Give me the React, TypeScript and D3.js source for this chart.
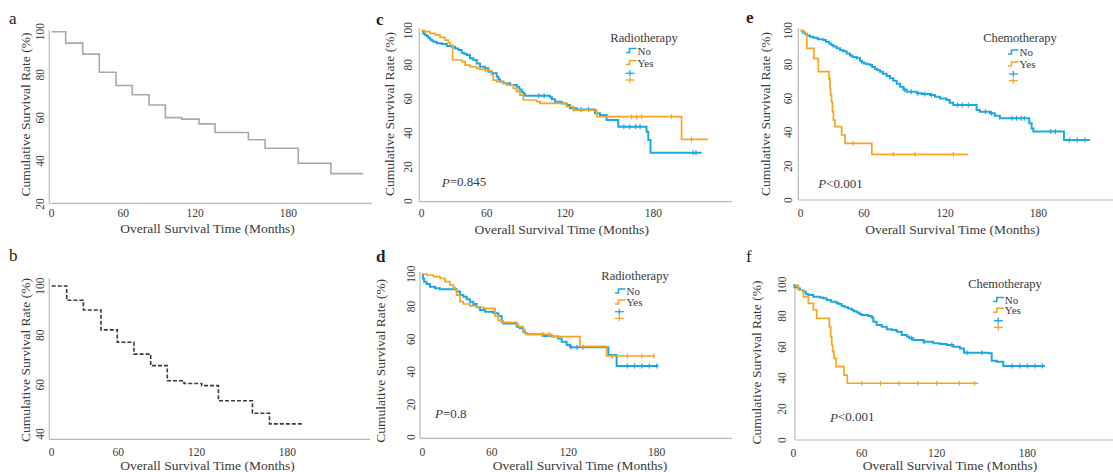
import React from "react";
import * as d3 from "d3";

const W = 1113;
const H = 472;
const FONT = "'Liberation Serif','Times New Roman',serif";
const BLUE = "#1ca8e4";
const ORANGE = "#f5a523";
const AXIS = "#b8b8b8";
const TEXT = "#3a3a3a";

// ---------- tick labels & texts ----------
const xTicks = [0, 60, 120, 180];
const yTicksA = [20, 40, 60, 80, 100];
const yTicksB = [40, 60, 80, 100];
const yTicksFull = [0, 20, 40, 60, 80, 100];
const xTitle = "Overall Survival Time (Months)";
const yTitle = "Cumulative Survival Rate (%)";
const groupLabels = ["No", "Yes"];
const legendRadio = "Radiotherapy";
const legendChemo = "Chemotherapy";
const pC = "=0.845";
const pD = "=0.8";
const pE = "<0.001";
const pF = "<0.001";

// ---------- data: [month, survival %] step events ----------
const aSteps = [[0,100],[11.7,94.7],[26.0,89.6],[39.9,81.2],[53.9,75.0],[67.5,70.7],[81.5,66.0],[95.2,60.1],[108.9,59.4],[122.6,57.2],[132.9,53.2],[154.3,49.8],[165.1,45.9],[186.4,38.9],[207.4,34.1]];
const aEnd = 228.2;

const bSteps = [[0,100],[13.5,94.2],[28.5,90.3],[44.4,82.2],[59.1,77.2],[72.0,72.4],[84.8,67.7],[97.5,61.6],[110.3,60.5],[123.3,59.6],[134.4,53.5],[156.9,48.4],[168.2,44.1]];
const bEnd = 190.3;

const cNo = [[0,100],[1.5,98.4],[3,97.5],[4.6,96.9],[6,95.9],[7.7,94.9],[9,94.2],[10.8,93.5],[13.8,92.6],[18.5,92.2],[23.1,91.0],[27.7,90.6],[30.8,89.6],[33.8,88.6],[36.9,87.1],[39,86.5],[41.5,85.7],[44.6,83.8],[47.7,82.8],[50.8,80.8],[53.8,78.9],[58.5,77.9],[61.3,75.9],[64,75.0],[67.7,73.0],[69,71.5],[70.2,70.1],[72.8,69.1],[77.9,68.1],[83.0,67.1],[85,65.5],[86.8,64.2],[88,63.0],[89.4,61.8],[108.5,60.9],[110,59.7],[112.3,58.3],[117.4,57.3],[121.1,56.4],[123.4,54.4],[127.9,53.8],[140.4,51.5],[143.8,50.5],[148.3,47.6],[156.2,43.6],[175.4,40.7],[176.6,35.8],[178.1,28.4]];
const cNoEnd = 212.8;
const cNoCensor = [100,104,131,136,160,164,168,171,207,209];
const cYes = [[0,100],[3,99.4],[7.7,98.4],[12.3,97.5],[16.9,96.1],[21.5,94.5],[24.6,93.0],[26.2,91.6],[28.5,82.8],[36.9,81.8],[40,79.8],[44.6,78.9],[50.8,77.9],[53.8,77.3],[58.5,76.5],[63.8,74.0],[65,71.0],[67.7,70.1],[72.8,69.1],[75.3,68.1],[80.4,66.1],[83,64.2],[85.5,62.2],[88,59.3],[98.3,58.3],[100.9,57.3],[121.1,55.4],[125.7,53.4],[141.5,49.5],[199.2,36.2]];
const cYesEnd = 217.3;
const cYesCensor = [126,131,165.3,168.7,172.1,192.4,205.9];

const dNo = [[0,100],[0.5,97.3],[1.5,95.3],[3.7,93.9],[6.6,92.2],[11,91.2],[15.3,90.6],[29.7,89.2],[32.6,87.1],[35.5,86.1],[38.4,84.5],[41.2,83.0],[44.1,81.6],[47,79.6],[49.9,77.9],[54.2,76.9],[61.3,75.9],[65.2,74.2],[67.8,70.8],[69.1,69.7],[79.6,67.7],[82,66.7],[84.8,64.6],[86.1,63.6],[87.4,63.0],[100,62.0],[107,61.6],[112,60.5],[114.8,58.5],[118.7,56.4],[121.1,55.0],[147.2,50.3],[152.8,43.6]];
const dNoEnd = 181.2;
const dNoCensor = [122,126,130,160,165,170,175,180];
const dYes = [[0,100],[3.7,99.4],[9.5,98.4],[15.3,97.3],[19.6,95.3],[23.9,93.3],[26.8,91.8],[28.3,90.2],[29.7,87.1],[32.6,83.0],[35.5,81.6],[41.2,80.5],[47,79.6],[52.8,78.9],[62.6,74.2],[65.2,71.5],[67.8,70.3],[79.6,69.1],[80.9,67.7],[84.8,65.6],[86.1,63.6],[87.4,63.0],[107,61.6],[127.9,55.6],[146,49.7]];
const dYesEnd = 178.9;
const dYesCensor = [100,105,150,160,170,178];

const eNo = [[0,100],[2,99.0],[4,98.0],[6,97.2],[8.8,96.5],[12,95.8],[16,95.0],[21.4,94.5],[24,93.5],[27,92.4],[29,91.5],[30.9,90.6],[34,89.6],[37.3,88.6],[40,87.8],[43.6,86.6],[46.7,85.3],[49,84.5],[53.1,83.7],[56.2,82.3],[58,81.2],[60,80.7],[62,80.2],[64.4,79.7],[66,78.5],[68.1,77.4],[70,76.6],[71.9,75.8],[74,74.5],[76.8,73.2],[79.3,71.9],[81.7,70.4],[84.2,68.6],[86.7,66.9],[89.1,65.2],[91.6,64.0],[99,63.0],[103,62.6],[108.9,62.0],[112.6,61.0],[116.3,60.0],[121,59.1],[123,57.5],[125.3,56.1],[140.3,53.1],[142.4,52.2],[148.9,51.2],[152,49.8],[155.3,48.3],[174.2,45.3],[175.7,42.3],[176.8,40.4],[196.5,35.4]];
const eNoEnd = 213.2;
const eNoCensor = [90,95,100,105,110,128,131,135,146,150,163,166,169,171,188,191,200,205,210];
const eYes = [[0,100],[3,98.5],[5.7,89.6],[12.6,83.5],[16.7,75.8],[26.8,71.5],[27.8,66],[28.4,62],[29.2,58],[30.1,52],[31,47.2],[32.5,43.3],[38.8,38.4],[42,33.5],[65.8,27.0]];
const eYesEnd = 135;
const eYesCensor = [49.9,81.7,97.8,125.4];

const fNo = [[0,100],[1,98.5],[4.4,97.8],[5.9,96.8],[8.8,95.7],[11,94.2],[13.2,93.5],[17.6,92.5],[23.4,92.0],[26,91.4],[29.3,90.3],[33,89.2],[38,88.2],[40,87.7],[42.4,86.5],[45,85.6],[48,84.8],[51.2,83.9],[53,83.0],[55.6,82.2],[58,81.3],[60,80.6],[65.3,80.0],[68,79.1],[69.3,76.3],[72,74.2],[76,73.1],[80,71.4],[84,71.0],[88,69.9],[92,67.7],[96,66.7],[98,65.6],[101.3,64.5],[109.3,63.4],[117.3,62.4],[122.2,61.9],[126.6,61.3],[131,60.2],[135.4,59.1],[138.1,56.3],[154.2,55.9],[156.4,51.2],[159.7,50.5],[164.1,47.7]];
const fNoEnd = 191.7;
const fNoCensor = [100,110,130,140,150,170,175,180,185,190];
const fYes = [[0,100],[4.4,96.8],[8.8,92.5],[13.2,88.2],[17.6,83.9],[20.5,78.5],[31.6,73.1],[32.8,66.7],[33.7,61.3],[34.5,57.0],[35.7,52.7],[37.5,47.3],[44.5,41.9],[47.4,36.6]];
const fYesEnd = 147.6;
const fYesCensor = [60,75,90,105,120,135,145];

// ---------- layout ----------
type Series = { steps: number[][]; end: number; censor: number[]; color: string; width: number; dash?: string };
type Legend = { title: string; cx: number; ty: number; gx: number; noY: number; yesY: number; plusX: number; p1: number; p2: number };
type PanelCfg = {
  letter: string; lx: number; ly: number; bold: boolean;
  xTickPx: number[]; yDomain: number[]; yRange: number[]; yTicks: number[];
  axX0: number; axX1: number; axY: number; ayX: number; ayY0: number;
  yLabX: number; xLabY: number; xtX: number; xtY: number; ytX: number; ytY: number;
  series: Series[]; legend?: Legend; p?: { text: string; x: number; y: number };
};

const panels: PanelCfg[] = [
  { letter: "a", lx: 9, ly: 24, bold: false, xTickPx: [51.7, 123.3, 195, 288.3], yDomain: [20, 100], yRange: [204, 31.7], yTicks: yTicksA,
    axX0: 49.3, axX1: 372, axY: 203.3, ayX: 49.3, ayY0: 30.5, yLabX: 40, xLabY: 213, xtX: 207.5, xtY: 228.5, ytX: 25.5, ytY: 114.5,
    series: [{ steps: aSteps, end: aEnd, censor: [], color: "#a9a9a9", width: 1.6 }] },
  { letter: "b", lx: 9, ly: 260.5, bold: false, xTickPx: [51.7, 118.3, 196.7, 287.3], yDomain: [40, 100], yRange: [434, 286], yTicks: yTicksB,
    axX0: 49.3, axX1: 370, axY: 439.3, ayX: 49.3, ayY0: 278.3, yLabX: 39.5, xLabY: 451.7, xtX: 207.5, xtY: 465.5, ytX: 25.5, ytY: 360,
    series: [{ steps: bSteps, end: bEnd, censor: [], color: "#3a3a3a", width: 1.6, dash: "4 2" }] },
  { letter: "c", lx: 376, ly: 25, bold: true, xTickPx: [421.7, 486.7, 565, 653.3], yDomain: [0, 100], yRange: [201, 30.7], yTicks: yTicksFull,
    axX0: 419.3, axX1: 731.7, axY: 201.7, ayX: 419.3, ayY0: 28, yLabX: 408, xLabY: 213.3, xtX: 561.7, xtY: 229.3, ytX: 389, ytY: 114,
    series: [
      { steps: cNo, end: cNoEnd, censor: cNoCensor, color: BLUE, width: 2 },
      { steps: cYes, end: cYesEnd, censor: cYesCensor, color: ORANGE, width: 1.7 },
    ],
    legend: { title: legendRadio, cx: 644, ty: 38, gx: 626, noY: 50.5, yesY: 62.5, plusX: 630, p1: 73.3, p2: 80 },
    p: { text: pC, x: 441.7, y: 181.7 } },
  { letter: "d", lx: 376, ly: 261.5, bold: true, xTickPx: [422.3, 491.7, 568.3, 656.7], yDomain: [0, 100], yRange: [437, 274], yTicks: yTicksFull,
    axX0: 420, axX1: 731.7, axY: 438.3, ayX: 420, ayY0: 271.7, yLabX: 411, xLabY: 451.7, xtX: 580, xtY: 465.5, ytX: 380, ytY: 360.8,
    series: [
      { steps: dNo, end: dNoEnd, censor: dNoCensor, color: BLUE, width: 2 },
      { steps: dYes, end: dYesEnd, censor: dYesCensor, color: ORANGE, width: 1.7 },
    ],
    legend: { title: legendRadio, cx: 635, ty: 276, gx: 615, noY: 291, yesY: 302, plusX: 619.3, p1: 311.7, p2: 318.3 },
    p: { text: pD, x: 435, y: 413.3 } },
  { letter: "e", lx: 746, ly: 23, bold: true, xTickPx: [800.7, 864, 945, 1038.3], yDomain: [0, 100], yRange: [200, 30.7], yTicks: yTicksFull,
    axX0: 798.3, axX1: 1113, axY: 200, ayX: 798.3, ayY0: 28, yLabX: 788, xLabY: 213.3, xtX: 952.5, xtY: 229.3, ytX: 765, ytY: 114,
    series: [
      { steps: eNo, end: eNoEnd, censor: eNoCensor, color: BLUE, width: 2 },
      { steps: eYes, end: eYesEnd, censor: eYesCensor, color: ORANGE, width: 1.7 },
    ],
    legend: { title: legendChemo, cx: 1020, ty: 37.5, gx: 1008, noY: 52, yesY: 64, plusX: 1013.3, p1: 74, p2: 80.7 },
    p: { text: pE, x: 818.3, y: 183.3 } },
  { letter: "f", lx: 746, ly: 261.5, bold: false, xTickPx: [793.3, 861.7, 936.7, 1027.3], yDomain: [0, 100], yRange: [440, 285], yTicks: yTicksFull,
    axX0: 795, axX1: 1113, axY: 440, ayX: 795, ayY0: 285, yLabX: 782, xLabY: 452.7, xtX: 950, xtY: 465.5, ytX: 756, ytY: 362.5,
    series: [
      { steps: fNo, end: fNoEnd, censor: fNoCensor, color: BLUE, width: 2 },
      { steps: fYes, end: fYesEnd, censor: fYesCensor, color: ORANGE, width: 1.7 },
    ],
    legend: { title: legendChemo, cx: 1005, ty: 283.5, gx: 993.3, noY: 299.5, yesY: 310.3, plusX: 998.3, p1: 320.7, p2: 327.3 },
    p: { text: pF, x: 830, y: 416.7 } },
];

function survAt(steps: number[][], t: number) {
  let s = steps[0][1];
  for (const e of steps) if (e[0] <= t) s = e[1];
  return s;
}

function Panel({ cfg }: { cfg: PanelCfg }) {
  const x = d3.scaleLinear().domain(xTicks).range(cfg.xTickPx);
  const y = d3.scaleLinear().domain(cfg.yDomain).range(cfg.yRange);
  const line = d3.line<number[]>().x((d) => x(d[0])).y((d) => y(d[1])).curve(d3.curveStepAfter);
  const lg = cfg.legend;
  return (
    <g>
      <text x={cfg.lx} y={cfg.ly} fontSize={17} fontWeight={cfg.bold ? "bold" : "normal"} fill="#222">{cfg.letter}</text>
      <line x1={cfg.axX0} x2={cfg.axX1} y1={cfg.axY} y2={cfg.axY} stroke={AXIS} strokeWidth={1.2} />
      <line x1={cfg.ayX} x2={cfg.ayX} y1={cfg.ayY0} y2={cfg.axY} stroke={AXIS} strokeWidth={1.2} />
      {cfg.yTicks.map((v) => (
        <text key={"y" + v} transform={`translate(${cfg.yLabX},${y(v)}) rotate(-90)`} textAnchor="middle" dominantBaseline="central" fontSize={11.5} fill={TEXT}>{v}</text>
      ))}
      {xTicks.map((v) => (
        <text key={"x" + v} x={x(v)} y={cfg.xLabY} textAnchor="middle" dominantBaseline="central" fontSize={11.5} fill={TEXT}>{v}</text>
      ))}
      <text x={cfg.xtX} y={cfg.xtY} textAnchor="middle" dominantBaseline="central" fontSize={13.5} fill={TEXT}>{xTitle}</text>
      <text transform={`translate(${cfg.ytX},${cfg.ytY}) rotate(-90)`} textAnchor="middle" dominantBaseline="central" fontSize={13.5} fill={TEXT}>{yTitle}</text>
      {cfg.series.map((s, i) => {
        const pts = [...s.steps, [s.end, s.steps[s.steps.length - 1][1]]];
        return (
          <g key={i}>
            <path d={line(pts) || ""} fill="none" stroke={s.color} strokeWidth={s.width} strokeDasharray={s.dash} />
            {s.censor.map((c, j) => (
              <line key={j} x1={x(c)} x2={x(c)} y1={y(survAt(s.steps, c)) - 2.5} y2={y(survAt(s.steps, c)) + 2.5} stroke={s.color} strokeWidth={1.2} />
            ))}
          </g>
        );
      })}
      {lg && (
        <g>
          <text x={lg.cx} y={lg.ty} textAnchor="middle" dominantBaseline="central" fontSize={12.5} fill={TEXT}>{lg.title}</text>
          {[BLUE, ORANGE].map((c, i) => {
            const yy = i === 0 ? lg.noY : lg.yesY;
            return (
              <g key={c}>
                <path d={`M${lg.gx},${yy + 2} h3.5 v-4 h7`} fill="none" stroke={c} strokeWidth={1.6} />
                <text x={lg.gx + 11.5} y={yy} dominantBaseline="central" fontSize={11} fill={TEXT}>{groupLabels[i]}</text>
              </g>
            );
          })}
          {[BLUE, ORANGE].map((c, i) => {
            const yy = i === 0 ? lg.p1 : lg.p2;
            return (
              <g key={"p" + c} stroke={c} strokeWidth={1.3}>
                <line x1={lg.plusX - 4.5} x2={lg.plusX + 4.5} y1={yy} y2={yy} />
                <line x1={lg.plusX} x2={lg.plusX} y1={yy - 3} y2={yy + 3} />
              </g>
            );
          })}
        </g>
      )}
      {cfg.p && (
        <text x={cfg.p.x} y={cfg.p.y} dominantBaseline="central" fontSize={13} fill={TEXT}>
          <tspan fontStyle="italic">P</tspan>{cfg.p.text}
        </text>
      )}
    </g>
  );
}

export default function App() {
  return (
    <div style={{ position: "absolute", left: 0, top: 0 }}>
      <svg width={W} height={H} style={{ display: "block", background: "#fff", fontFamily: FONT }}>
        {panels.map((p) => (
          <Panel key={p.letter} cfg={p} />
        ))}
      </svg>
    </div>
  );
}
